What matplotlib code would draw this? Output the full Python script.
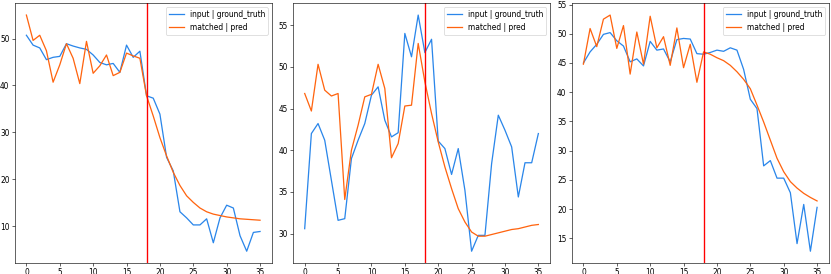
import matplotlib
matplotlib.use('Agg')
import matplotlib.pyplot as plt

# time steps shared by all three panels
steps = list(range(36))
split_at = 18

# panel 1
truth_a = [50.7, 48.6, 48.0, 45.5, 46.0, 46.2, 48.9, 48.4, 48.0, 47.7,
           46.5, 44.9, 44.4, 44.7, 42.8, 48.6, 46.0, 47.3, 37.8, 37.3,
           33.9, 24.7, 21.8, 13.1, 11.8, 10.3, 10.3, 11.6, 6.5, 11.8,
           14.5, 13.9, 8.0, 4.7, 8.7, 8.9]
pred_a = [55.0, 49.6, 50.7, 47.4, 40.7, 44.4, 48.9, 45.8, 40.4, 49.4,
          42.6, 44.2, 46.5, 42.1, 42.8, 46.9, 46.3, 45.8, 37.8, 33.5,
          28.9, 25.0, 21.5, 18.7, 16.5, 15.1, 13.9, 13.1, 12.6, 12.3,
          12.0, 11.8, 11.6, 11.5, 11.4, 11.3]

# panel 2
truth_b = [30.6, 42.0, 43.2, 41.2, 36.4, 31.6, 31.8, 39.0, 41.2, 43.2,
           46.6, 47.6, 43.6, 41.6, 42.1, 54.0, 51.2, 56.2, 51.7, 53.3,
           41.1, 40.2, 37.1, 40.2, 35.2, 27.9, 29.8, 29.8, 38.4, 44.2,
           42.4, 40.4, 34.4, 38.5, 38.5, 42.0]
pred_b = [46.8, 44.7, 50.3, 47.2, 46.5, 46.8, 34.1, 40.0, 43.0, 46.4,
          46.7, 50.3, 47.4, 39.1, 40.8, 45.3, 45.4, 52.8, 48.2, 44.4,
          41.0, 38.0, 35.4, 33.0, 31.4, 30.2, 29.7, 29.7, 29.9, 30.1,
          30.3, 30.5, 30.6, 30.8, 31.0, 31.1]

# panel 3
truth_c = [45.0, 46.9, 48.2, 49.9, 50.2, 48.8, 47.9, 45.2, 45.7, 44.5,
           48.7, 47.2, 47.4, 45.2, 49.0, 49.2, 49.1, 46.6, 46.5, 46.8,
           47.2, 47.0, 47.6, 47.2, 43.9, 38.8, 37.2, 27.4, 28.3, 25.3,
           25.3, 22.8, 14.1, 20.8, 12.8, 20.3]
pred_c = [44.8, 50.9, 47.8, 52.5, 53.2, 47.5, 51.4, 43.1, 50.3, 44.8,
          53.0, 47.6, 49.5, 44.6, 51.0, 44.2, 48.2, 41.7, 46.9, 46.5,
          45.9, 45.4, 44.6, 43.5, 42.2, 40.6, 37.8, 34.9, 31.8, 28.7,
          26.4, 24.7, 23.6, 22.7, 22.0, 21.4]

panels = [(truth_a, pred_a), (truth_b, pred_b), (truth_c, pred_c)]
lefts = [0.0177, 0.3526, 0.688]

fig = plt.figure(figsize=(831 / 54, 274 / 54), dpi=54)
for left, (truth, pred) in zip(lefts, panels):
    ax = fig.add_axes([left, 0.0401, 0.3093, 0.948])
    ax.plot(steps, truth, color='#2a86ea', lw=1.7, label='input | ground_truth')
    ax.plot(steps, pred, color='#ff640f', lw=1.7, label='matched | pred')
    ax.axvline(split_at, color='red', lw=1.8)
    ax.legend(loc='upper right')

fig.savefig('out.png', dpi=54)
